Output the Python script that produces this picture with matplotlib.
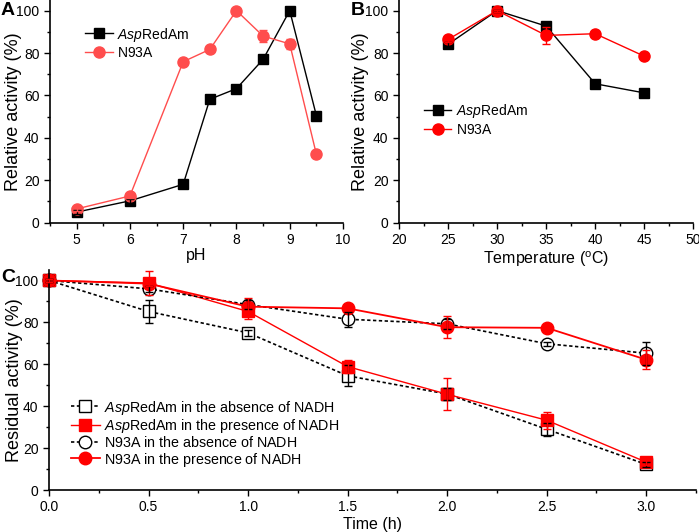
import numpy as np
import matplotlib
matplotlib.use('Agg')
import matplotlib.pyplot as plt
from matplotlib.ticker import MultipleLocator

plt.rcParams['font.family'] = ['Liberation Sans', 'DejaVu Sans']
plt.rcParams['mathtext.fontset'] = 'custom'
plt.rcParams['mathtext.it'] = 'Liberation Sans:italic'
plt.rcParams['mathtext.rm'] = 'Liberation Sans'

# panel A - pH
ph = [5, 6, 7, 7.5, 8, 8.5, 9, 9.5]
ph_wt = [5.0, 10.3, 18.1, 58.2, 63.2, 77.0, 100.0, 50.5]
ph_wt_err = [0.8, 0.8, 0.8, 1.0, 0.8, 1.5, 0.5, 1.0]
ph_mut = [6.5, 12.6, 75.9, 81.7, 100.0, 88.0, 84.3, 32.3]
ph_mut_err = [0.8, 0.8, 0.8, 0.8, 0.5, 3.0, 2.5, 0.8]

# panel B - temperature
temp = [25, 30, 35, 40, 45]
t_wt = [84.1, 100.0, 92.7, 65.5, 61.2]
t_wt_err = [1.0, 0.5, 1.0, 1.0, 2.0]
t_mut = [86.4, 100.0, 88.3, 89.1, 78.5]
t_mut_err = [1.0, 0.5, 4.0, 1.0, 1.0]

# panel C - stability
hours = [0, 0.5, 1.0, 1.5, 2.0, 2.5, 3.0]
wt_abs = [100.0, 85.2, 75.0, 54.5, 45.8, 29.0, 12.2]
wt_abs_err = [0.5, 5.6, 1.5, 5.0, 3.0, 3.0, 1.0]
wt_pre = [100.0, 98.8, 85.2, 58.9, 45.7, 33.3, 13.3]
wt_pre_err = [0.5, 5.5, 3.5, 3.0, 7.6, 4.0, 1.5]
mut_abs = [100.0, 96.0, 88.5, 81.5, 79.3, 69.8, 65.3]
mut_abs_err = [0.5, 1.5, 2.0, 3.5, 2.5, 1.0, 5.5]
mut_pre = [100.0, 98.5, 87.5, 86.7, 77.7, 77.4, 62.2]
mut_pre_err = [0.5, 1.0, 4.0, 1.0, 5.3, 1.0, 4.5]

red = '#ff0000'
light_red = '#ff4d4d'


def rm(s):
    return r'\mathrm{' + s.replace(' ', r'\ ') + '}'


wt_label = '$' + r'\it{Asp}' + rm('RedAm') + '$'
mut_label = '$' + rm('N93A') + '$'
lab_wt_abs = '$' + r'\it{Asp}' + rm('RedAm in the absence of NADH') + '$'
lab_wt_pre = '$' + r'\it{Asp}' + rm('RedAm in the presence of NADH') + '$'
lab_mut_abs = '$' + rm('N93A in the absence of NADH') + '$'
lab_mut_pre = '$' + rm('N93A in the presence of NADH') + '$'

fig = plt.figure(figsize=(6.99, 5.32), dpi=100)
axA = fig.add_axes([50/699, 1-222.7/532, 293/699, 222.7/532])
axB = fig.add_axes([399/699, 1-222.7/532, 294.3/699, 222.7/532])
axC = fig.add_axes([49/699, 1-490/532, 647/699, 220/532])


def style(ax):
    ax.spines['top'].set_visible(False)
    ax.spines['right'].set_visible(False)
    ax.tick_params(which='both', direction='out', labelsize=10, width=1)
    ax.tick_params(which='major', length=4)
    ax.tick_params(which='minor', length=2.5)
    ax.set_ylim(0, 105)
    ax.yaxis.set_major_locator(MultipleLocator(20))
    ax.yaxis.set_minor_locator(MultipleLocator(10))
    for s in ax.spines.values():
        s.set_linewidth(1.2)


def series(ax, x, y, err, color, marker, ms, ls='-', lw=1, mfc=None, label=None):
    ax.plot(x, y, color=color, ls=ls, lw=lw, marker=marker, ms=ms,
            mfc=mfc if mfc else color, mec=color, label=label, clip_on=False,
            zorder=2)
    ax.errorbar(x, y, yerr=err, fmt='none', ecolor=color, capsize=3,
                elinewidth=1, zorder=3, clip_on=False)


leg_kw = dict(loc='upper left', frameon=False, handlelength=2.0,
              handletextpad=0.3, handleheight=1.0, borderaxespad=0)

# A
series(axA, ph, ph_wt, ph_wt_err, 'black', 's', 7, label=wt_label)
series(axA, ph, ph_mut, ph_mut_err, light_red, 'o', 8, label=mut_label)
style(axA)
axA.set_xlim(4.5, 10)
axA.xaxis.set_major_locator(MultipleLocator(1))
axA.xaxis.set_minor_locator(MultipleLocator(0.5))
axA.set_xlabel('pH', fontsize=11.5)
axA.set_ylabel('Relative activity (%)', fontsize=13)
axA.xaxis.set_label_coords(0.5, -0.112)
axA.yaxis.set_label_coords(-0.096, 0.5)
axA.legend(bbox_to_anchor=(0.1, 0.91), fontsize=10, labelspacing=0.2, **leg_kw)

# B
series(axB, temp, t_wt, t_wt_err, 'black', 's', 7, label=wt_label)
series(axB, temp, t_mut, t_mut_err, red, 'o', 8, label=mut_label)
style(axB)
axB.set_xlim(20, 50)
axB.xaxis.set_major_locator(MultipleLocator(5))
axB.xaxis.set_minor_locator(MultipleLocator(2.5))
axB.set_xlabel('Temperature ($\\mathregular{^oC}$)', fontsize=11.5)
axB.set_ylabel('Relative activity (%)', fontsize=13)
axB.xaxis.set_label_coords(0.5, -0.118)
axB.yaxis.set_label_coords(-0.102, 0.5)
axB.legend(bbox_to_anchor=(0.065, 0.565), fontsize=10, labelspacing=0.2, **leg_kw)

# C
dash = (0, (2, 1.5))
series(axC, hours, wt_abs, wt_abs_err, 'black', 's', 8, ls=dash, lw=1.2,
       mfc='white', label=lab_wt_abs)
series(axC, hours, wt_pre, wt_pre_err, red, 's', 8, label=lab_wt_pre)
series(axC, hours, mut_abs, mut_abs_err, 'black', 'o', 9, ls=dash, lw=1.2,
       mfc='white', label=lab_mut_abs)
series(axC, hours, mut_pre, mut_pre_err, red, 'o', 9, lw=1.3,
       label=lab_mut_pre)
style(axC)
axC.set_xlim(0, 3.25)
axC.xaxis.set_major_locator(MultipleLocator(0.5))
axC.xaxis.set_minor_locator(MultipleLocator(0.25))
axC.set_xlabel('Time (h)', fontsize=11.5)
axC.set_ylabel('Residual activity (%)', fontsize=13)
axC.xaxis.set_label_coords(0.5, -0.124)
axC.yaxis.set_label_coords(-0.040, 0.5)
axC.legend(bbox_to_anchor=(0.025, 0.44), fontsize=10.3, labelspacing=0.02, **leg_kw)

fig.text(1/699, 1-2/532, 'A', fontsize=14, fontweight='bold', va='top')
fig.text(351/699, 1-2/532, 'B', fontsize=14, fontweight='bold', va='top')
fig.text(1/699, 1-269/532, 'C', fontsize=14, fontweight='bold', va='top')

fig.savefig('out.png', dpi=100)
